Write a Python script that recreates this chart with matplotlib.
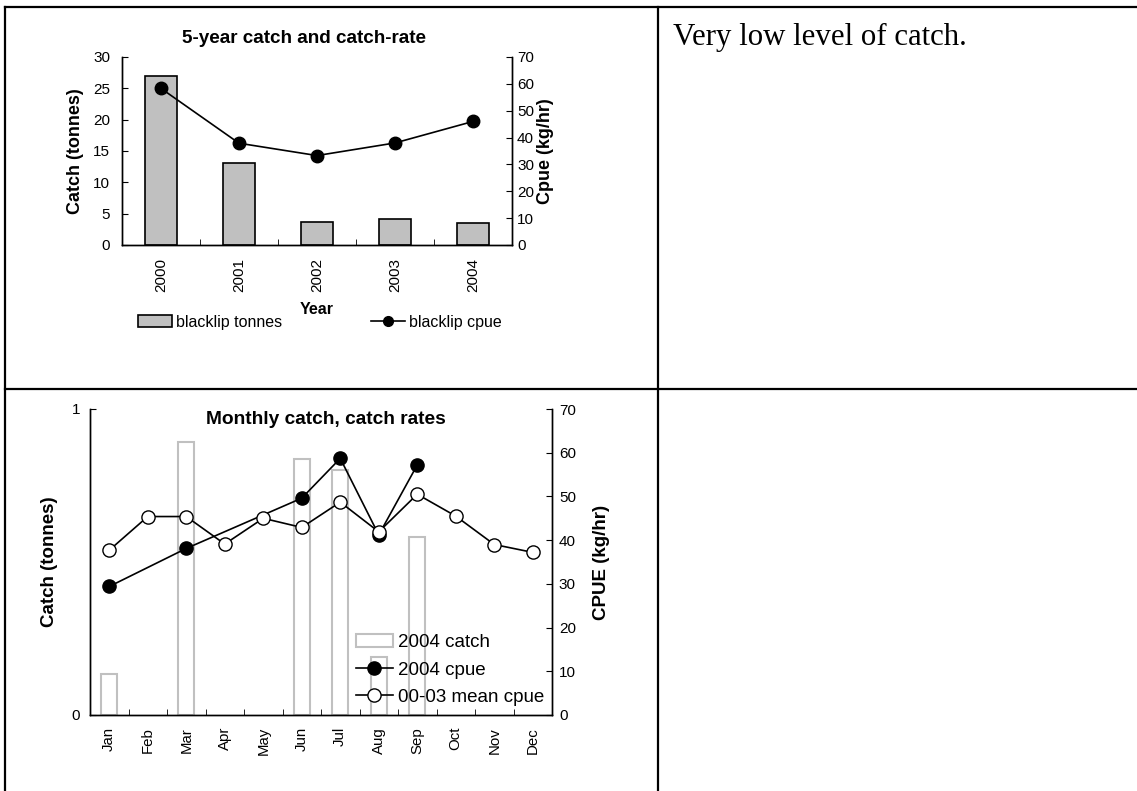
import numpy as np
import matplotlib
matplotlib.use("Agg")
import matplotlib.pyplot as plt
from matplotlib.lines import Line2D
from matplotlib.patches import Patch

plt.rcParams['font.family'] = ['Liberation Sans', 'DejaVu Sans']

# ---------------- data ----------------
years = ['2000', '2001', '2002', '2003', '2004']
blacklip_tonnes = [27.0, 13.1, 3.75, 4.2, 3.5]
blacklip_cpue = [58.3, 37.9, 33.3, 38.0, 46.0]

months = ['Jan', 'Feb', 'Mar', 'Apr', 'May', 'Jun', 'Jul', 'Aug', 'Sep', 'Oct', 'Nov', 'Dec']
catch_2004 = [0.133, np.nan, 0.891, np.nan, np.nan, 0.838, 0.80, 0.188, 0.583, np.nan, np.nan, np.nan]
cpue_2004 = [29.4, np.nan, 38.1, np.nan, np.nan, 49.6, 58.7, 41.2, 57.2, np.nan, np.nan, np.nan]
mean_cpue_0003 = [37.7, 45.4, 45.4, 39.1, 45.0, 42.9, 48.7, 41.9, 50.5, 45.5, 39.0, 37.2]

comment_text = 'Very low level of catch.'

W, H = 1137, 791
fig = plt.figure(figsize=(W / 100, H / 100), dpi=100)


def fx(px):
    return px / W


def fy(py):
    return 1 - py / H


def style_axes(ax, ax2):
    for a in (ax, ax2):
        a.spines['top'].set_visible(False)
        for s in a.spines.values():
            s.set_linewidth(1.0)
            s.set_color('black')
    ax.patch.set_visible(False)
    ax2.patch.set_visible(False)


# ---------------- table borders ----------------
lw_tab = 1.6
fig.add_artist(Line2D([fx(5), 1], [fy(6.5), fy(6.5)], color='black', lw=lw_tab))
fig.add_artist(Line2D([fx(5), fx(5)], [fy(6.5), 0], color='black', lw=lw_tab))
fig.add_artist(Line2D([fx(658), fx(658)], [fy(6.5), 0], color='black', lw=lw_tab))
fig.add_artist(Line2D([fx(5), 1], [fy(389), fy(389)], color='black', lw=lw_tab))

fig.text(fx(673), fy(45), comment_text, family=['Liberation Serif', 'DejaVu Serif'],
         fontsize=22.2, ha='left', va='baseline')

# ---------------- top chart ----------------
L, R, T, B = 122, 512, 57, 245
ax1 = fig.add_axes([fx(L), fy(B), fx(R - L), (B - T) / H])
ax1b = ax1.twinx()
style_axes(ax1, ax1b)
ax1.set_zorder(1)
ax1b.set_zorder(2)

x5 = np.arange(len(years))
ax1.bar(x5, blacklip_tonnes, width=0.41, color='#c0c0c0', edgecolor='black', linewidth=1.2,
        label='blacklip tonnes')
ax1b.plot(x5, blacklip_cpue, color='black', lw=1.2, marker='o', markersize=9,
          markerfacecolor='black', label='blacklip cpue')
ax1.set_xlim(-0.5, len(years) - 0.5)
ax1.set_ylim(0, 30)
ax1b.set_ylim(0, 70)
ax1.set_yticks(range(0, 31, 5))
ax1b.set_yticks(range(0, 71, 10))
ax1.set_xticks(x5)
ax1.set_xticklabels(years, rotation=90, fontsize=11)
ax1.set_xticks(np.arange(-0.5, len(years)), minor=True)
ax1.tick_params(axis='x', which='major', length=0, pad=9)
ax1.tick_params(axis='x', which='minor', direction='in', length=4)
ax1.tick_params(axis='y', direction='in', length=4, labelsize=11, pad=8.4)
ax1b.tick_params(axis='y', direction='in', length=4, labelsize=11, pad=3.6)

ax1.text((304 - L) / (R - L), (B - 38.5) / (B - T), '5-year catch and catch-rate',
         transform=ax1.transAxes, ha='center', va='center', fontsize=13.6, fontweight='bold')
ax1.set_ylabel('Catch (tonnes)', fontsize=13, fontweight='bold')
ax1.yaxis.set_label_coords(-(L - 75) / (R - L), 0.5)
ax1.yaxis.label.set_va('center')
ax1b.set_ylabel('Cpue (kg/hr)', fontsize=13, fontweight='bold')
ax1b.yaxis.set_label_coords(1 + (546 - R) / (R - L), 0.5)
ax1b.yaxis.label.set_va('center')
ax1.set_xlabel('Year', fontsize=11.5, fontweight='bold')
ax1.xaxis.set_label_coords(0.5, -(309 - B) / (B - T))
ax1.xaxis.label.set_va('center')

h1 = [Patch(facecolor='#c0c0c0', edgecolor='black', linewidth=1.2),
      Line2D([], [], color='black', lw=1.2, marker='o', markersize=7, markerfacecolor='black')]
fig.legend(h1, ['blacklip tonnes', 'blacklip cpue'], loc='center left',
           bbox_to_anchor=(fx(138), fy(322)), ncol=2, frameon=False, fontsize=11.5,
           handlelength=2.1, handletextpad=0.25, columnspacing=5.6, borderpad=0,
           borderaxespad=0)

# ---------------- bottom chart ----------------
L2, R2, T2, B2 = 90, 552, 409, 715
ax2 = fig.add_axes([fx(L2), fy(B2), fx(R2 - L2), (B2 - T2) / H])
ax2b = ax2.twinx()
style_axes(ax2, ax2b)
ax2.set_zorder(1)
ax2b.set_zorder(2)

x12 = np.arange(len(months))
c_arr = np.array(catch_2004, dtype=float)
has = ~np.isnan(c_arr)
ax2.bar(x12[has], c_arr[has], width=0.42, color='white', edgecolor='#c0c0c0', linewidth=1.5)
cp = np.array(cpue_2004, dtype=float)
okc = ~np.isnan(cp)
ax2b.plot(x12[okc], cp[okc], color='black', lw=1.2, marker='o', markersize=9.5,
          markerfacecolor='black', markeredgecolor='black')
ax2b.plot(x12, mean_cpue_0003, color='black', lw=1.2, marker='o', markersize=9.5,
          markerfacecolor='white', markeredgecolor='black')
ax2.set_xlim(-0.5, len(months) - 0.5)
ax2.set_ylim(0, 1)
ax2b.set_ylim(0, 70)
ax2.set_yticks([0, 1])
ax2b.set_yticks(range(0, 71, 10))
ax2.set_xticks(x12)
ax2.set_xticklabels(months, rotation=90, fontsize=10.8)
ax2.set_xticks(np.arange(-0.5, len(months)), minor=True)
ax2.tick_params(axis='x', which='major', length=0, pad=8.6)
ax2.tick_params(axis='x', which='minor', direction='in', length=4)
ax2.tick_params(axis='y', direction='in', length=4, labelsize=11, pad=7)
ax2b.tick_params(axis='y', direction='in', length=4, labelsize=11, pad=5)

ax2.text((326 - L2) / (R2 - L2), (B2 - 420) / (B2 - T2), 'Monthly catch, catch rates',
         transform=ax2.transAxes, ha='center', va='center', fontsize=13.8, fontweight='bold')
ax2.set_ylabel('Catch (tonnes)', fontsize=13.5, fontweight='bold')
ax2.yaxis.set_label_coords(-(L2 - 50) / (R2 - L2), 0.5)
ax2.yaxis.label.set_va('center')
ax2b.set_ylabel('CPUE (kg/hr)', fontsize=13.5, fontweight='bold')
ax2b.yaxis.set_label_coords(1 + (601 - R2) / (R2 - L2), 0.5)
ax2b.yaxis.label.set_va('center')

h2 = [Patch(facecolor='white', edgecolor='#c0c0c0', linewidth=1.5),
      Line2D([], [], color='black', lw=1.2, marker='o', markersize=9.5, markerfacecolor='black'),
      Line2D([], [], color='black', lw=1.2, marker='o', markersize=9.5, markerfacecolor='white',
             markeredgecolor='black')]
ax2b.legend(h2, ['2004 catch', '2004 cpue', '00-03 mean cpue'], loc='center left',
            bbox_to_anchor=(fx(356), fy(670)), bbox_transform=fig.transFigure,
            frameon=False, fontsize=13.5, handlelength=1.95, handletextpad=0.3,
            labelspacing=0.55, borderpad=0, borderaxespad=0)

fig.savefig('out.png', dpi=100)
